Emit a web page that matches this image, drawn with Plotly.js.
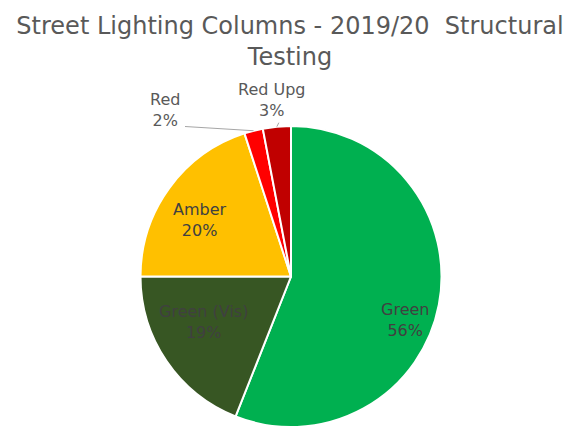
<!DOCTYPE html>
<html><head><meta charset="utf-8">
<script src="https://cdn.plot.ly/plotly-3.0.1.min.js"></script>
<style>html,body{margin:0;padding:0;background:#fff;}#chart{width:580px;height:427px;}</style>
</head><body><div id="chart"></div>
<script>
const categories = ['Green', 'Green (Vis)', 'Amber', 'Red', 'Red Upg'];
const values = [56, 19, 20, 2, 3];
const colors = ['#00B050', '#375623', '#FFC000', '#FF0000', '#C00000'];
const titleText = 'Street Lighting Columns - 2019/20  Structural<br>Testing';

// label placement (pixel offsets from pie centre) - style only
const labelOffsets = [[114, 43], [-88, 45], [-91, -57], [-126, -167], [-19, -177]];
const labelInside = [true, true, true, false, false];

const W = 580, H = 427;
const M = {l: 2, r: 0, t: 126, b: 0};
const PW = W - M.l - M.r, PH = H - M.t - M.b;
const R = Math.min(PW, PH) / 2;
const cx = M.l + PW / 2, cy = M.t + PH / 2;
const toPaperX = px => (px - M.l) / PW;
const toPaperY = py => 1 - (py - M.t) / PH;

const total = values.reduce((a, b) => a + b, 0);
const annotations = [];
const shapes = [];
let cum = 0;
categories.forEach((cat, i) => {
  const pct = Math.round(values[i] / total * 100);
  const mid = (cum + values[i] / 2) / total * 2 * Math.PI;
  cum += values[i];
  const lx = cx + labelOffsets[i][0], ly = cy + labelOffsets[i][1];
  annotations.push({
    xref: 'paper', yref: 'paper', x: toPaperX(lx), y: toPaperY(ly),
    xanchor: 'center', yanchor: 'middle', showarrow: false,
    text: cat + '<br>' + pct + '%',
    font: {family: 'DejaVu Sans, sans-serif', size: 16, color: labelInside[i] ? '#404040' : '#595959'}
  });
  if (!labelInside[i]) {
    const ex = cx + Math.sin(mid) * R, ey = cy - Math.cos(mid) * R;
    // leader line from label to slice edge
    const sx = i === 3 ? lx + 20 : ex + 2;
    const sy = i === 3 ? ly + 17 : ey - 4;
    shapes.push({
      type: 'line', xref: 'paper', yref: 'paper',
      x0: toPaperX(sx), y0: toPaperY(sy), x1: toPaperX(ex), y1: toPaperY(ey),
      line: {color: '#A6A6A6', width: 1}
    });
  }
});

const trace = {
  type: 'pie',
  labels: categories,
  values: values,
  sort: false,
  direction: 'clockwise',
  rotation: 0,
  marker: {colors: colors, line: {color: '#ffffff', width: 2}},
  textinfo: 'none',
  hoverinfo: 'none',
  showlegend: false
};

const layout = {
  width: W, height: H,
  margin: M,
  paper_bgcolor: '#ffffff',
  title: {
    text: titleText,
    font: {family: 'DejaVu Sans, sans-serif', size: 24, color: '#595959'},
    x: 0.5, xanchor: 'center', y: 0.92, yanchor: 'top', yref: 'container'
  },
  annotations: annotations,
  shapes: shapes,
  showlegend: false
};

Plotly.newPlot('chart', [trace], layout, {staticPlot: true});
</script>
</body></html>
